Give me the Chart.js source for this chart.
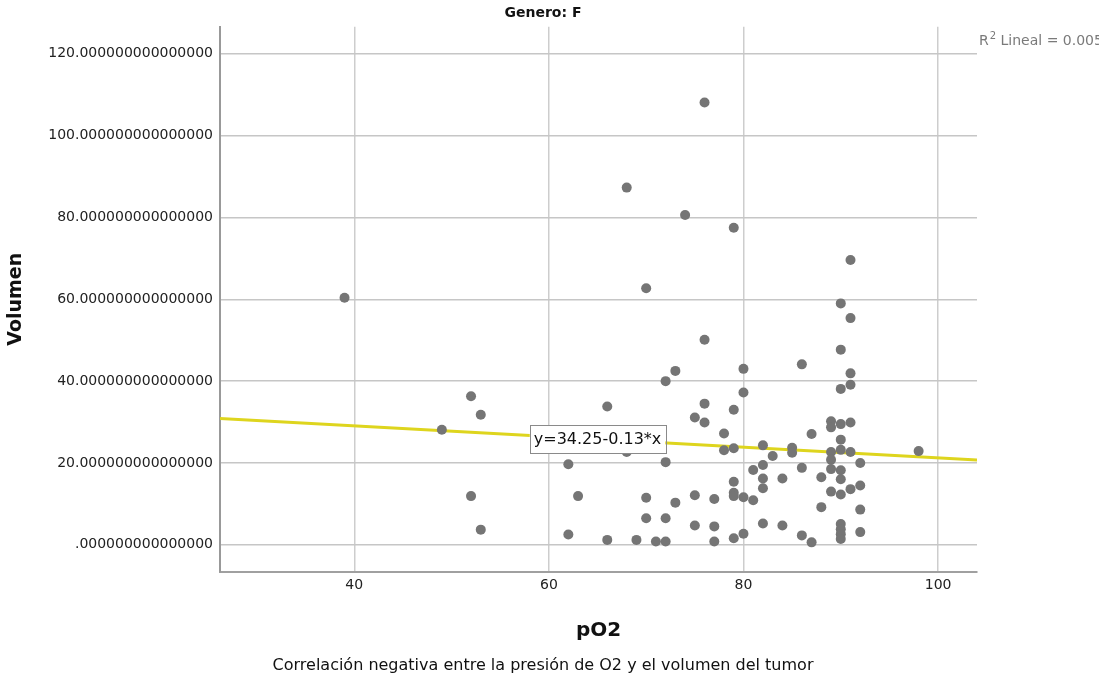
<!DOCTYPE html>
<html>
<head>
<meta charset="utf-8">
<script src="https://cdn.jsdelivr.net/npm/chart.js@4.4.1/dist/chart.umd.min.js"></script>
<style>
  body { margin: 0; background: #fff; }
  #wrap { width: 1099px; height: 677px; }
</style>
</head>
<body>
<div id="wrap"><canvas id="scatterChart" width="1099" height="677"></canvas></div>
<script>
// pO2 (x) and tumour volume (y)
const pO2 = [
  39, 49, 52, 52, 53, 53, 62, 62, 63, 66, 66, 68, 68, 69, 70, 70, 70, 71,
  72, 72, 72, 72, 73, 73, 74, 75, 75, 75, 76, 76, 76, 76, 77, 77, 77, 78, 78,
  79, 79, 79, 79, 79, 79, 79, 80, 80, 80, 80, 81, 81, 82, 82, 82, 82, 82, 83,
  84, 84, 85, 85, 86, 86, 86, 87, 87, 88, 88,
  89, 89, 89, 89, 89, 89,
  90, 90, 90, 90, 90, 90, 90, 90, 90, 90, 90, 90, 90,
  91, 91, 91, 91, 91, 91, 91, 92, 92, 92, 92, 98
];
const volumen = [
  60.4, 28.1, 36.3, 11.9, 31.8, 3.7, 19.7, 2.5, 11.9, 33.8, 1.2, 87.3, 22.7, 1.2, 62.7, 11.5, 6.5, 0.8,
  40.0, 20.2, 6.5, 0.8, 42.5, 10.3, 80.6, 31.1, 12.1, 4.7, 108.1, 50.1, 34.5, 29.9, 11.2, 4.5, 0.8, 27.2, 23.1,
  77.5, 33.0, 23.6, 15.4, 12.7, 11.9, 1.6, 43.0, 37.2, 11.6, 2.7, 18.3, 10.9, 24.3, 19.5, 16.2, 13.8, 5.2, 21.7,
  16.2, 4.7, 23.7, 22.5, 44.1, 18.8, 2.3, 27.1, 0.6, 16.5, 9.2,
  30.2, 28.7, 22.7, 20.8, 18.5, 13.0,
  59.0, 47.7, 38.1, 29.5, 25.7, 23.2, 18.2, 16.0, 12.3, 5.1, 3.8, 2.6, 1.4,
  69.6, 55.4, 41.9, 39.1, 29.9, 22.7, 13.6, 20.0, 14.5, 8.6, 3.1, 22.9
];

const xTicks = [40, 60, 80, 100];
const yTicks = [0, 20, 40, 60, 80, 100, 120];
const xRange = [26.2, 104];
const yRange = [-6.6, 126.6];

// linear fit shown on the chart
const fitIntercept = 34.25;
const fitSlope = -0.13;
const fitLabel = "y=34.25-0.13*x";
const fitLabelAt = 65;
const rSquared = "0.005";

const points = pO2.map((x, i) => ({ x: x, y: volumen[i] }));
const fitLine = xRange.map((x) => ({ x: x, y: fitIntercept + fitSlope * x }));

const fontFamily = "'DejaVu Sans', sans-serif";

// equation box on the fit line + R² note at the right
const fitNotes = {
  id: "fitNotes",
  afterDatasetsDraw(chart) {
    const ctx = chart.ctx;
    const xs = chart.scales.x;
    const ys = chart.scales.y;
    const cx = xs.getPixelForValue(fitLabelAt);
    const cy = ys.getPixelForValue(fitIntercept + fitSlope * fitLabelAt);

    ctx.save();
    ctx.font = "16px " + fontFamily;
    const w = ctx.measureText(fitLabel).width + 8;
    const h = 28;
    ctx.fillStyle = "#ffffff";
    ctx.fillRect(cx - w / 2, cy - h / 2, w, h);
    ctx.strokeStyle = "#8a8a8a";
    ctx.lineWidth = 1;
    ctx.strokeRect(Math.round(cx - w / 2) + 0.5, Math.round(cy - h / 2) + 0.5, Math.round(w), h);
    ctx.fillStyle = "#111111";
    ctx.textAlign = "center";
    ctx.textBaseline = "middle";
    ctx.fillText(fitLabel, cx, cy + 1);

    // R² Lineal
    const area = chart.chartArea;
    let tx = area.right + 2;
    const ty = 45;
    ctx.fillStyle = "#7a7a7a";
    ctx.textAlign = "left";
    ctx.textBaseline = "alphabetic";
    ctx.font = "14px " + fontFamily;
    ctx.fillText("R", tx, ty);
    tx += ctx.measureText("R").width + 1;
    ctx.font = "10px " + fontFamily;
    ctx.fillText("2", tx, ty - 6);
    tx += ctx.measureText("2").width;
    ctx.font = "14px " + fontFamily;
    ctx.fillText(" Lineal = " + rSquared, tx, ty);
    ctx.restore();
  },
};

const ctx = document.getElementById("scatterChart");

new Chart(ctx, {
  type: "scatter",
  data: {
    datasets: [
      {
        label: "Volumen",
        data: points,
        backgroundColor: "#757575",
        borderWidth: 0,
        pointRadius: 5,
        pointHoverRadius: 5,
        order: 1,
      },
      {
        type: "line",
        label: "Lineal",
        data: fitLine,
        borderColor: "#ded51e",
        borderWidth: 3,
        pointRadius: 0,
        fill: false,
        order: 2,
      },
    ],
  },
  options: {
    responsive: false,
    animation: false,
    layout: { padding: { left: 0, right: 13, top: 0, bottom: 0 } },
    plugins: {
      legend: { display: false },
      tooltip: { enabled: false },
      title: {
        display: true,
        text: "Genero: F",
        color: "#111",
        font: { family: fontFamily, size: 14, weight: "bold" },
        padding: { top: 5, bottom: 5 },
      },
      subtitle: {
        display: true,
        position: "bottom",
        text: "Correlación negativa entre la presión de O2 y el volumen del tumor",
        color: "#111",
        font: { family: fontFamily, size: 16 },
        padding: { top: 7, bottom: 2 },
      },
    },
    scales: {
      x: {
        type: "linear",
        min: xRange[0],
        max: xRange[1],
        afterBuildTicks: (s) => { s.ticks = xTicks.map((v) => ({ value: v })); },
        afterFit: (s) => { s.height = 77; },
        grid: { color: "#cdcdcd", lineWidth: 1.5, drawTicks: false },
        border: { display: true, color: "#a0a0a0", width: 2 },
        ticks: {
          padding: 5,
          color: "#222",
          font: { family: fontFamily, size: 14 },
        },
        title: {
          display: true,
          text: "pO2",
          color: "#111",
          font: { family: fontFamily, size: 20, weight: "bold" },
          padding: { top: 0, bottom: 6 },
        },
      },
      y: {
        type: "linear",
        min: yRange[0],
        max: yRange[1],
        afterBuildTicks: (s) => { s.ticks = yTicks.map((v) => ({ value: v })); },
        afterFit: (s) => { s.width = 220; },
        grid: { color: "#c6c6c6", lineWidth: 1.5, drawTicks: false },
        border: { display: true, color: "#999999", width: 2 },
        ticks: {
          padding: 7,
          color: "#222",
          font: { family: fontFamily, size: 14 },
          callback: (v) => v.toFixed(15).replace(/^0\./, "."),
        },
        title: {
          display: true,
          text: "Volumen",
          color: "#111",
          font: { family: fontFamily, size: 19, weight: "bold" },
          padding: { top: 5, bottom: 0 },
        },
      },
      // empty right-hand box, keeps the R² note outside the plot
      yRight: {
        type: "linear",
        position: "right",
        display: true,
        afterFit: (s) => { s.width = 109; },
        grid: { display: false },
        border: { display: false },
        ticks: { display: false },
      },
    },
  },
  plugins: [fitNotes],
});
</script>
</body>
</html>
